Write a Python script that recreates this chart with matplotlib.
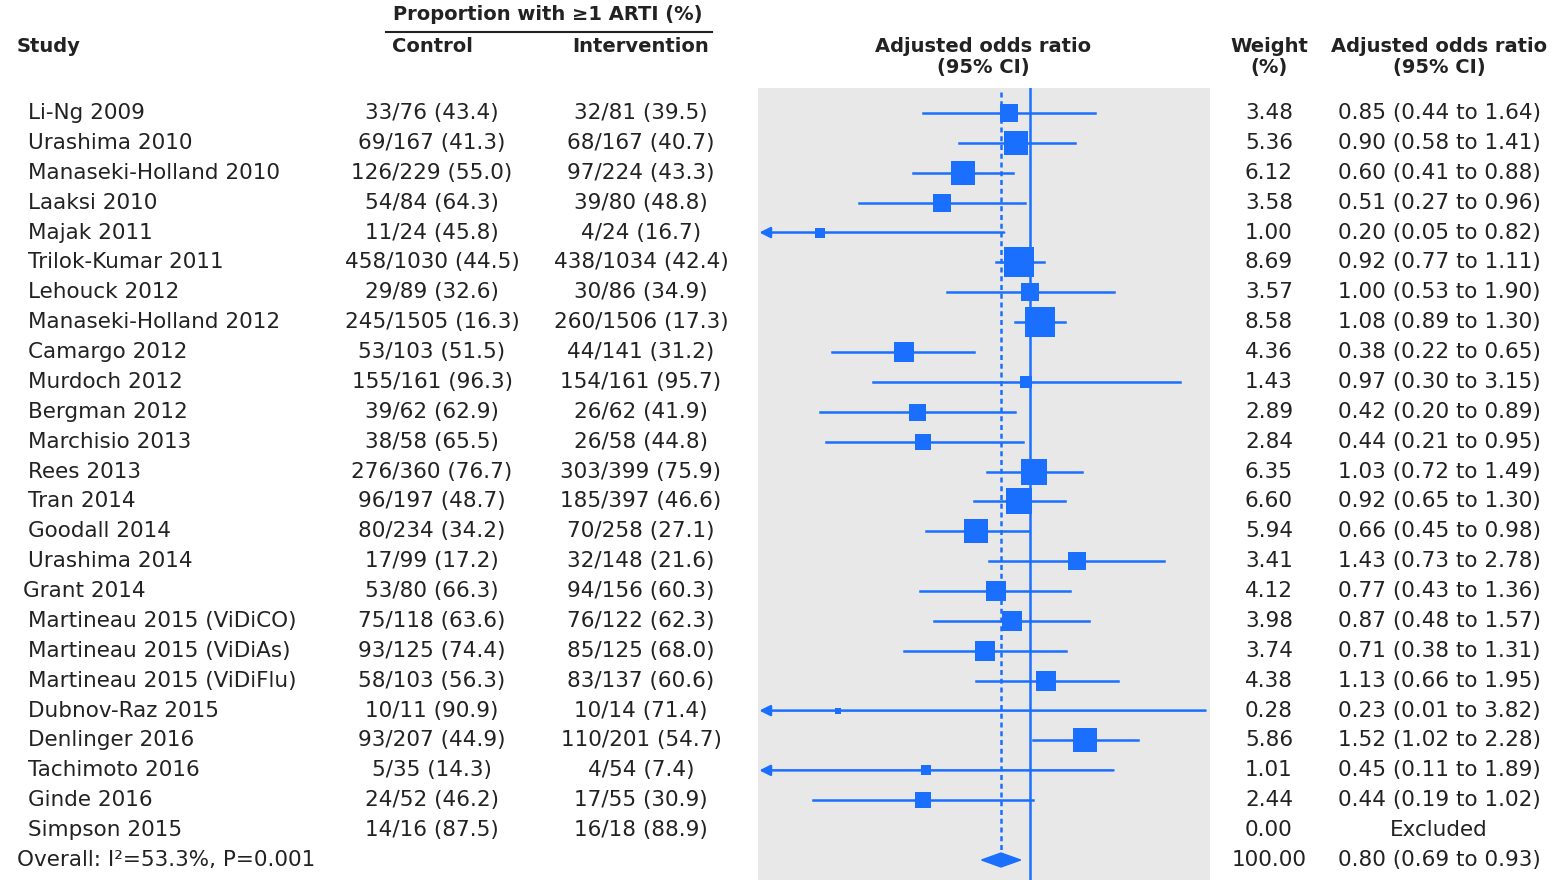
import numpy as np
import matplotlib
matplotlib.use("Agg")
import matplotlib.pyplot as plt
from matplotlib.patches import Polygon

plt.rcParams['font.family'] = ['DejaVu Sans']

studies = ["Li-Ng 2009", "Urashima 2010", "Manaseki-Holland 2010", "Laaksi 2010",
           "Majak 2011", "Trilok-Kumar 2011", "Lehouck 2012", "Manaseki-Holland 2012",
           "Camargo 2012", "Murdoch 2012", "Bergman 2012", "Marchisio 2013",
           "Rees 2013", "Tran 2014", "Goodall 2014", "Urashima 2014", "Grant 2014",
           "Martineau 2015 (ViDiCO)", "Martineau 2015 (ViDiAs)",
           "Martineau 2015 (ViDiFlu)", "Dubnov-Raz 2015", "Denlinger 2016",
           "Tachimoto 2016", "Ginde 2016", "Simpson 2015"]

control = ["33/76 (43.4)", "69/167 (41.3)", "126/229 (55.0)", "54/84 (64.3)",
           "11/24 (45.8)", "458/1030 (44.5)", "29/89 (32.6)", "245/1505 (16.3)",
           "53/103 (51.5)", "155/161 (96.3)", "39/62 (62.9)", "38/58 (65.5)",
           "276/360 (76.7)", "96/197 (48.7)", "80/234 (34.2)", "17/99 (17.2)",
           "53/80 (66.3)", "75/118 (63.6)", "93/125 (74.4)", "58/103 (56.3)",
           "10/11 (90.9)", "93/207 (44.9)", "5/35 (14.3)", "24/52 (46.2)",
           "14/16 (87.5)"]

intervention = ["32/81 (39.5)", "68/167 (40.7)", "97/224 (43.3)", "39/80 (48.8)",
                "4/24 (16.7)", "438/1034 (42.4)", "30/86 (34.9)", "260/1506 (17.3)",
                "44/141 (31.2)", "154/161 (95.7)", "26/62 (41.9)", "26/58 (44.8)",
                "303/399 (75.9)", "185/397 (46.6)", "70/258 (27.1)", "32/148 (21.6)",
                "94/156 (60.3)", "76/122 (62.3)", "85/125 (68.0)", "83/137 (60.6)",
                "10/14 (71.4)", "110/201 (54.7)", "4/54 (7.4)", "17/55 (30.9)",
                "16/18 (88.9)"]

odds = [0.85, 0.90, 0.60, 0.51, 0.20, 0.92, 1.00, 1.08, 0.38, 0.97, 0.42, 0.44,
        1.03, 0.92, 0.66, 1.43, 0.77, 0.87, 0.71, 1.13, 0.23, 1.52, 0.45, 0.44, np.nan]
lower = [0.44, 0.58, 0.41, 0.27, 0.05, 0.77, 0.53, 0.89, 0.22, 0.30, 0.20, 0.21,
         0.72, 0.65, 0.45, 0.73, 0.43, 0.48, 0.38, 0.66, 0.01, 1.02, 0.11, 0.19, np.nan]
upper = [1.64, 1.41, 0.88, 0.96, 0.82, 1.11, 1.90, 1.30, 0.65, 3.15, 0.89, 0.95,
         1.49, 1.30, 0.98, 2.78, 1.36, 1.57, 1.31, 1.95, 3.82, 2.28, 1.89, 1.02, np.nan]
weight = [3.48, 5.36, 6.12, 3.58, 1.00, 8.69, 3.57, 8.58, 4.36, 1.43, 2.89, 2.84,
          6.35, 6.60, 5.94, 3.41, 4.12, 3.98, 3.74, 4.38, 0.28, 5.86, 1.01, 2.44, 0.00]

overall_label = "Overall: I\u00b2=53.3%, P=0.001"
overall_or, overall_lo, overall_hi = 0.80, 0.69, 0.93
overall_weight = 100.00

blue = '#1a6fff'
W, H = 1563, 880
fig = plt.figure(figsize=(W / 100, H / 100), dpi=100)
bg = fig.add_axes([0, 0, 1, 1])
bg.set_xlim(0, W)
bg.set_ylim(H, 0)
bg.axis('off')

y0, dy = 113, 29.88
rows = y0 + dy * np.arange(len(studies) + 1)
fs = 15.5

# headers
hd = dict(fontsize=14, fontweight='bold', color='#222222', va='center')
bg.text(548, 15, "Proportion with \u22651 ARTI (%)", ha='center', **hd)
bg.plot([386, 712], [32, 32], color='#222222', lw=1.5)
bg.text(17, 46, "Study", ha='left', **hd)
bg.text(432, 46, "Control", ha='center', **hd)
bg.text(641, 46, "Intervention", ha='center', **hd)
bg.text(983, 46, "Adjusted odds ratio", ha='center', **hd)
bg.text(983, 68, "(95% CI)", ha='center', **hd)
bg.text(1269, 46, "Weight", ha='center', **hd)
bg.text(1269, 68, "(%)", ha='center', **hd)
bg.text(1439, 46, "Adjusted odds ratio", ha='center', **hd)
bg.text(1439, 68, "(95% CI)", ha='center', **hd)

tx = dict(fontsize=fs, color='#222222', va='center')
for i, name in enumerate(studies):
    y = rows[i]
    bg.text(23 if name == "Grant 2014" else 28, y, name, ha='left', **tx)
    bg.text(432, y, control[i], ha='center', **tx)
    bg.text(641, y, intervention[i], ha='center', **tx)
    bg.text(1269, y, f"{weight[i]:.2f}", ha='center', **tx)
    if np.isnan(odds[i]):
        bg.text(1439, y, "Excluded", ha='center', **tx)
    else:
        bg.text(1439, y, f"{odds[i]:.2f} ({lower[i]:.2f} to {upper[i]:.2f})",
                ha='center', **tx)
yo = rows[-1]
bg.text(17, yo, overall_label, ha='left', **tx)
bg.text(1269, yo, f"{overall_weight:.2f}", ha='center', **tx)
bg.text(1439, yo, f"{overall_or:.2f} ({overall_lo:.2f} to {overall_hi:.2f})",
        ha='center', **tx)

# forest panel
ax = fig.add_axes([758 / W, 0, 452 / W, (H - 88) / H])
ax.set_facecolor('#e8e8e8')
ax.set_xscale('log')
xmin, xmax = 0.125, 3.95
ax.set_xlim(xmin, xmax)
ax.set_ylim(H, 88)
for s in ax.spines.values():
    s.set_visible(False)
ax.set_xticks([])
ax.set_yticks([])
ax.minorticks_off()

ax.axvline(1.0, color=blue, lw=1.8, zorder=2)
ax.plot([overall_or, overall_or], [92, yo - 10], color=blue, lw=1.8,
        ls=(0, (2, 1.5)), zorder=2)

for i in range(len(studies)):
    if np.isnan(odds[i]):
        continue
    y = rows[i]
    if lower[i] < xmin:
        ax.annotate('', xy=(xmin * 1.01, y), xytext=(upper[i], y),
                    arrowprops=dict(arrowstyle='-|>', color=blue, lw=1.8,
                                    mutation_scale=16, shrinkA=0, shrinkB=0),
                    zorder=3)
    else:
        ax.plot([lower[i], upper[i]], [y, y], color=blue, lw=1.8, zorder=3)
    ax.plot(odds[i], y, marker='s', color=blue, ms=7.2 * np.sqrt(weight[i]),
            mew=0, zorder=4)

dia = Polygon([[overall_lo, yo], [overall_or, yo - 7], [overall_hi, yo],
               [overall_or, yo + 7]], closed=True, color=blue, zorder=4)
ax.add_patch(dia)

fig.savefig("out.png", dpi=100, facecolor='white')
